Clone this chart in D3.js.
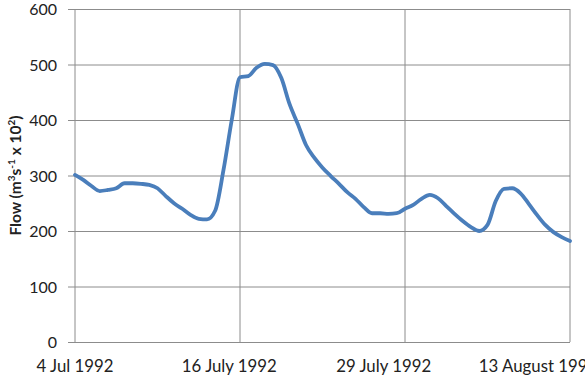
<!DOCTYPE html>
<html>
<head>
<meta charset="utf-8">
<script src="https://cdn.jsdelivr.net/npm/d3@7"></script>
<style>
  body { margin: 0; background: #fff; overflow: hidden; }
  svg text { font-family: Lato, "Open Sans", sans-serif; fill: #222; }
</style>
</head>
<body>
<div class="chart-container"></div>
<script>
// flow readings, equally spaced along the category axis
const flowValues = [
    301, 292, 281, 272, 274, 277, 286, 286, 285, 283,
    277, 263, 250, 240, 229, 222, 221, 237, 310, 400,
    477, 479, 494, 501, 499, 476, 429, 393, 355, 332,
    314, 299, 285, 270, 258, 243, 232, 232, 231, 232,
    240, 247, 258, 265, 259, 245, 231, 218, 207, 200,
    211, 254, 276, 277, 268, 249, 229, 211, 198, 189,
    182
];
const dateLabels = ["4 Jul 1992", "16 July 1992", "29 July 1992", "13 August 1992"];
const labelIndex = [0, 20, 40, 60];
const yTicks = [0, 100, 200, 300, 400, 500, 600];

const width = 585;
const height = 379;
const margin = {top: 9, right: 15, bottom: 37, left: 75};

const svg = d3.select(".chart-container").append("svg")
    .attr("width", width)
    .attr("height", height);

const x = d3.scaleLinear()
    .domain([0, flowValues.length - 1])
    .range([margin.left, width - margin.right]);

const y = d3.scaleLinear()
    .domain([0, 600])
    .range([height - margin.bottom, margin.top]);

// labels sit a little left of the gridlines, like the excel original
const xLabel = d3.scalePoint()
    .domain(dateLabels)
    .range([margin.left, 538]);

// horizontal gridlines + y ticks
svg.append("g")
    .attr("transform", `translate(${margin.left},0)`)
    .call(d3.axisLeft(y).tickValues(yTicks).tickSize(7).tickPadding(11))
    .call(g => g.select(".domain").remove())
    .call(g => g.selectAll(".tick line").attr("stroke", "#8c8c8c"))
    .call(g => g.selectAll(".tick text").style("font-size", "16px").attr("dy", "0.36em"))
    .call(g => g.selectAll(".tick").append("line")
        .attr("x2", width - margin.right - margin.left)
        .attr("stroke", "#8c8c8c"));

// vertical gridlines at the labelled dates
svg.append("g")
    .selectAll("line")
    .data(labelIndex)
    .enter()
    .append("line")
    .attr("x1", d => x(d))
    .attr("x2", d => x(d))
    .attr("y1", margin.top)
    .attr("y2", height - margin.bottom)
    .attr("stroke", "#8c8c8c");

// x labels (last one runs off the edge, as in the original)
svg.append("g")
    .selectAll("text")
    .data(dateLabels)
    .enter()
    .append("text")
    .attr("x", d => xLabel(d))
    .attr("y", height - margin.bottom + 30)
    .attr("text-anchor", "middle")
    .style("font-size", "16.8px")
    .text(d => d);

// y title
svg.append("text")
    .attr("transform", `translate(21,${(margin.top + height - margin.bottom) / 2}) rotate(-90)`)
    .attr("text-anchor", "middle")
    .style("font-size", "15.5px")
    .style("font-weight", "bold")
    .html('Flow (m<tspan dy="-6" font-size="10px">3</tspan><tspan dy="6">s</tspan><tspan dy="-6" font-size="10px">-1</tspan><tspan dy="6"> x 10</tspan><tspan dy="-6" font-size="10px">2</tspan><tspan dy="6">)</tspan>');

const line = d3.line()
    .x((d, i) => x(i))
    .y(d => y(d))
    .curve(d3.curveMonotoneX);

svg.append("path")
    .datum(flowValues)
    .attr("d", line)
    .attr("fill", "none")
    .attr("stroke", "#4a7ebb")
    .attr("stroke-width", 3.8)
    .attr("stroke-linejoin", "round")
    .attr("stroke-linecap", "round");
</script>
</body>
</html>
